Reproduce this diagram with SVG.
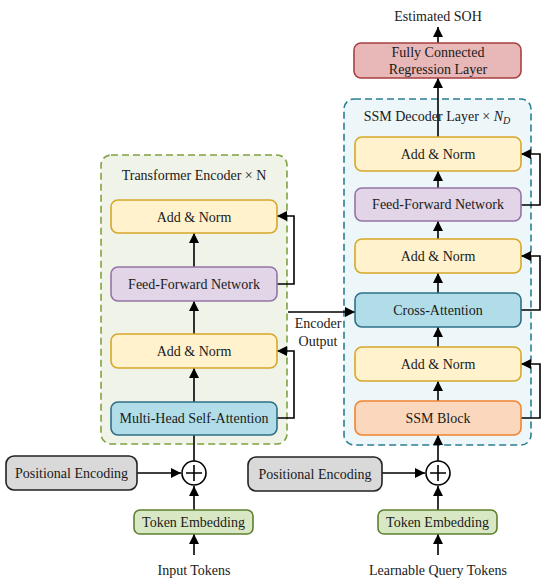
<svg xmlns="http://www.w3.org/2000/svg" width="550" height="584" viewBox="0 0 550 584">
<defs>
<marker id="ah" viewBox="0 0 10 10" refX="10" refY="5" markerWidth="10" markerHeight="10" markerUnits="userSpaceOnUse" orient="auto">
<path d="M0,0 L10,5 L0,10 z" fill="#000"/>
</marker>
</defs>
<style>
text{font-family:"Liberation Serif","Times New Roman",serif;font-size:14px;fill:#1a1a1a;text-anchor:middle;dominant-baseline:central}
.ln{fill:none;stroke:#000;stroke-width:1.6}
.ar{fill:none;stroke:#000;stroke-width:1.6;marker-end:url(#ah)}
.yel{fill:#fff2cc;stroke:#d6a72a;stroke-width:1.6}
.pur{fill:#e1d5e7;stroke:#9673a6;stroke-width:1.6}
.blu{fill:#b1dde9;stroke:#2f6f86;stroke-width:1.6}
.org{fill:#fbd8bd;stroke:#f0842f;stroke-width:1.6}
.red{fill:#e8b7b7;stroke:#a84040;stroke-width:1.6}
.gry{fill:#d9d9d9;stroke:#222;stroke-width:1.6}
.grn{fill:#d9e8c4;stroke:#5e7f2e;stroke-width:1.6}
.enc{fill:#f0f3e8;stroke:#7fa23f;stroke-width:1.6;stroke-dasharray:7 4}
.dec{fill:#edf6f9;stroke:#2a7f93;stroke-width:1.6;stroke-dasharray:7 4}
</style>

<g id="encoder">
<rect class="enc" x="101" y="155" width="186" height="289" rx="10"/>
<text x="194" y="175">Transformer Encoder × N</text>
</g>
<g id="decoder">
<rect class="dec" x="344" y="99" width="187" height="346" rx="10"/>
<text x="437" y="116">SSM Decoder Layer × <tspan font-style="italic">N</tspan><tspan font-style="italic" font-size="10" dy="4">D</tspan></text>
</g>

<g id="connectors">
<!-- encoder vertical -->
<line class="ar" x1="194" y1="555" x2="194" y2="534"/>
<line class="ar" x1="194" y1="510" x2="194" y2="486"/>
<line class="ar" x1="137" y1="473" x2="181" y2="473"/>
<line class="ar" x1="194" y1="461" x2="194" y2="402"/>
<line class="ar" x1="194" y1="402" x2="194" y2="368"/>
<line class="ar" x1="194" y1="334" x2="194" y2="301"/>
<line class="ar" x1="194" y1="267" x2="194" y2="233"/>
<polyline class="ar" points="277,418 294,418 294,351 277,351"/>
<polyline class="ar" points="277,284 294,284 294,216 277,216"/>
<!-- encoder output -->
<line class="ar" x1="288" y1="312" x2="355" y2="312"/>
<!-- decoder vertical -->
<line class="ar" x1="438" y1="555" x2="438" y2="534"/>
<line class="ar" x1="438" y1="510" x2="438" y2="486"/>
<line class="ar" x1="382" y1="473" x2="425" y2="473"/>
<line class="ar" x1="438" y1="461" x2="438" y2="435"/>
<line class="ar" x1="438" y1="401" x2="438" y2="381"/>
<line class="ar" x1="438" y1="347" x2="438" y2="327"/>
<line class="ar" x1="438" y1="293" x2="438" y2="273"/>
<line class="ar" x1="438" y1="239" x2="438" y2="221"/>
<line class="ar" x1="438" y1="188" x2="438" y2="171"/>
<line class="ar" x1="438" y1="137" x2="438" y2="78"/>
<line class="ar" x1="438" y1="43" x2="438" y2="27"/>
<polyline class="ar" points="521,418 540,418 540,364 521,364"/>
<polyline class="ar" points="521,310 540,310 540,256 521,256"/>
<polyline class="ar" points="521,205 540,205 540,154 521,154"/>
</g>

<g id="enc_addnorm2"><rect class="yel" x="111" y="200" width="166" height="33" rx="7"/><text x="194" y="217">Add &amp; Norm</text></g>
<g id="enc_ffn"><rect class="pur" x="111" y="267" width="166" height="34" rx="7"/><text x="194" y="284">Feed-Forward Network</text></g>
<g id="enc_addnorm1"><rect class="yel" x="111" y="334" width="166" height="34" rx="7"/><text x="194" y="351">Add &amp; Norm</text></g>
<g id="enc_mhsa"><rect class="blu" x="111" y="402" width="166" height="33" rx="7"/><text x="194" y="418.5">Multi-Head Self-Attention</text></g>

<g id="enc_posenc"><rect class="gry" x="6" y="456" width="131" height="34" rx="8"/><text x="71.5" y="473">Positional Encoding</text></g>
<g id="enc_add"><circle cx="194" cy="473" r="12" fill="#fff" stroke="#000" stroke-width="1.6"/><path d="M186,473 H202 M194,465 V481" stroke="#000" stroke-width="1.6"/></g>
<g id="enc_tokemb"><rect class="grn" x="134" y="510" width="119" height="24" rx="6"/><text x="193.5" y="522">Token Embedding</text></g>
<g id="enc_input"><text x="194" y="570">Input Tokens</text></g>
<g id="enc_output_label"><text x="318" y="323">Encoder</text><text x="318" y="341">Output</text></g>

<g id="dec_addnorm3"><rect class="yel" x="355" y="137" width="166" height="34" rx="7"/><text x="438" y="154">Add &amp; Norm</text></g>
<g id="dec_ffn"><rect class="pur" x="355" y="188" width="166" height="33" rx="7"/><text x="438" y="204.5">Feed-Forward Network</text></g>
<g id="dec_addnorm2"><rect class="yel" x="355" y="239" width="166" height="34" rx="7"/><text x="438" y="256">Add &amp; Norm</text></g>
<g id="dec_cross"><rect class="blu" x="355" y="293" width="166" height="34" rx="7"/><text x="438" y="310">Cross-Attention</text></g>
<g id="dec_addnorm1"><rect class="yel" x="355" y="347" width="166" height="34" rx="7"/><text x="438" y="364">Add &amp; Norm</text></g>
<g id="dec_ssm"><rect class="org" x="355" y="401" width="166" height="34" rx="7"/><text x="438" y="418">SSM Block</text></g>

<g id="fc"><rect class="red" x="354" y="43" width="167" height="35" rx="7"/><text x="438" y="52">Fully Connected</text><text x="438" y="69">Regression Layer</text></g>
<g id="soh"><text x="438" y="16">Estimated SOH</text></g>

<g id="dec_posenc"><rect class="gry" x="248" y="457" width="134" height="34" rx="8"/><text x="315" y="474">Positional Encoding</text></g>
<g id="dec_add"><circle cx="438" cy="473" r="12" fill="#fff" stroke="#000" stroke-width="1.6"/><path d="M430,473 H446 M438,465 V481" stroke="#000" stroke-width="1.6"/></g>
<g id="dec_tokemb"><rect class="grn" x="378" y="510" width="119" height="24" rx="6"/><text x="437.5" y="522">Token Embedding</text></g>
<g id="dec_input"><text x="438" y="570">Learnable Query Tokens</text></g>
</svg>
